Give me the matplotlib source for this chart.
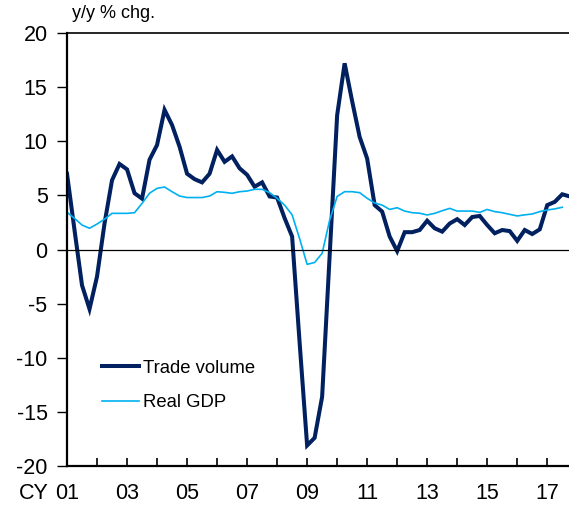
import matplotlib
matplotlib.use("Agg")
import matplotlib.pyplot as plt
import numpy as np

plt.rcParams['font.family'] = ['Liberation Sans', 'DejaVu Sans']

# quarterly y/y % change, 2001Q1 onwards
trade_volume = [7.0, 1.8, -3.3, -5.5, -2.5, 2.4, 6.4, 7.9, 7.4, 5.2,
                4.7, 8.3, 9.65, 12.9, 11.5, 9.5, 7.0, 6.5, 6.2, 7.0,
                9.2, 8.1, 8.6, 7.5, 6.9, 5.8, 6.2, 4.9, 4.8, 2.9,
                1.2, -8.6, -18.1, -17.4, -13.6, -0.6, 12.4, 17.2, 13.7, 10.4,
                8.4, 4.1, 3.5, 1.2, -0.15, 1.6, 1.6, 1.8, 2.66, 1.96,
                1.65, 2.4, 2.8, 2.26, 3.0, 3.1, 2.26, 1.5, 1.8, 1.7,
                0.8, 1.8, 1.43, 1.86, 4.1, 4.4, 5.1, 4.9]
real_gdp = [3.43, 2.88, 2.26, 1.96, 2.35, 2.8, 3.34, 3.34, 3.34, 3.4,
            4.26, 5.2, 5.65, 5.77, 5.34, 4.94, 4.8, 4.8, 4.8, 4.94,
            5.34, 5.28, 5.19, 5.34, 5.4, 5.56, 5.56, 5.25, 4.73, 4.1,
            3.2, 1.0, -1.37, -1.2, -0.35, 2.7, 4.9, 5.34, 5.34, 5.25,
            4.73, 4.3, 4.1, 3.7, 3.86, 3.55, 3.4, 3.35, 3.19, 3.34,
            3.58, 3.8, 3.55, 3.55, 3.55, 3.43, 3.7, 3.5, 3.4, 3.25,
            3.1, 3.2, 3.28, 3.5, 3.65, 3.75, 3.9]
year_labels = ['01', '', '03', '', '05', '', '07', '', '09', '',
               '11', '', '13', '', '15', '', '17']
y_ticks = [-20, -15, -10, -5, 0, 5, 10, 15, 20]

fig = plt.figure(figsize=(5.69, 5.05), dpi=100)
ax = fig.add_axes([67 / 569, 1 - 466 / 505, 502 / 569, 433 / 505])

ax.plot(np.arange(len(trade_volume)), trade_volume, color='#002060', lw=2.9,
        label='Trade volume', solid_joinstyle='miter')
ax.plot(np.arange(len(real_gdp)), real_gdp, color='#00B0F0', lw=1.2,
        label='Real GDP')
ax.axhline(0, color='black', lw=0.9)

ax.set_xlim(0, 66.9)
ax.set_ylim(-20, 20)
ax.set_yticks(y_ticks)
ax.set_yticklabels([str(v) for v in y_ticks])
ax.set_xticks(np.arange(len(year_labels)) * 4)
ax.set_xticklabels(year_labels)

ax.tick_params(axis='y', direction='out', length=7, width=1, pad=7,
               labelsize=15.5)
ax.tick_params(axis='x', direction='in', length=6, width=1.2, pad=12,
               labelsize=15.5)

for side in ['left', 'bottom']:
    ax.spines[side].set_linewidth(1.6)
ax.spines['top'].set_linewidth(1.2)
ax.spines['right'].set_visible(False)

ax.annotate('CY', xy=(0, 0), xycoords='axes fraction', xytext=(-13.5, -12),
            textcoords='offset points', ha='right', va='top', fontsize=15.5)
ax.text(5 / 502, 1 + 20 / 433, 'y/y % chg.', transform=ax.transAxes,
        fontsize=13, va='center', ha='left')

ax.legend(loc='upper left', bbox_to_anchor=(0.069, 0.245), frameon=False,
          fontsize=13.3, handlelength=2.0, handletextpad=0.25,
          labelspacing=0.95, borderpad=0, borderaxespad=0)

fig.savefig('out.png', dpi=100)
